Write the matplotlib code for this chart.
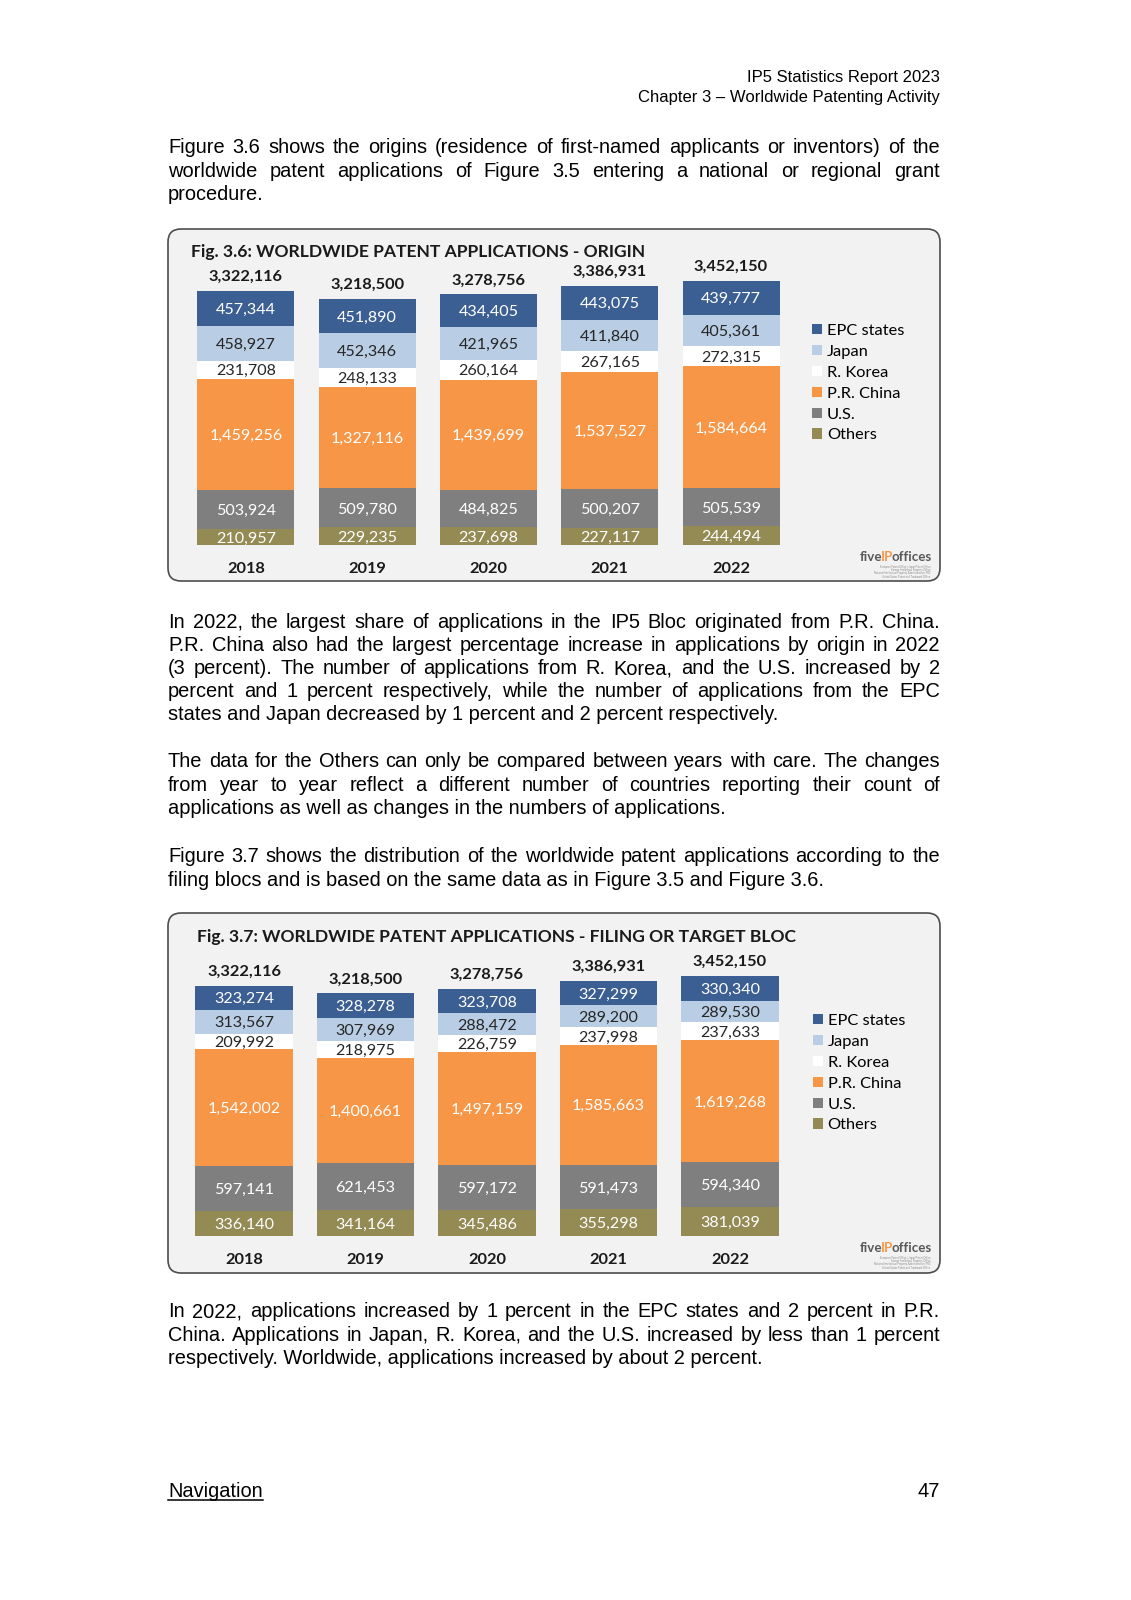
import matplotlib
matplotlib.use("Agg")
import matplotlib.pyplot as plt
from matplotlib.patches import FancyBboxPatch

W, H = 1131, 1600

years = ["2018", "2019", "2020", "2021", "2022"]
legend_names = ["EPC states", "Japan", "R. Korea", "P.R. China", "U.S.", "Others"]

# Fig 3.6 - origin
origin_epc = [457344, 451890, 434405, 443075, 439777]
origin_japan = [458927, 452346, 421965, 411840, 405361]
origin_korea = [231708, 248133, 260164, 267165, 272315]
origin_china = [1459256, 1327116, 1439699, 1537527, 1584664]
origin_us = [503924, 509780, 484825, 500207, 505539]
origin_others = [210957, 229235, 237698, 227117, 244494]

# Fig 3.7 - filing bloc
filing_epc = [323274, 328278, 323708, 327299, 330340]
filing_japan = [313567, 307969, 288472, 289200, 289530]
filing_korea = [209992, 218975, 226759, 237998, 237633]
filing_china = [1542002, 1400661, 1497159, 1585663, 1619268]
filing_us = [597141, 621453, 597172, 591473, 594340]
filing_others = [336140, 341164, 345486, 355298, 381039]

colors = {"EPC states": "#3b5f92", "Japan": "#b9cde5", "R. Korea": "#ffffff",
          "P.R. China": "#f79646", "U.S.": "#7f7f7f", "Others": "#948a54"}
label_color = {"EPC states": "white", "Japan": "#262626", "R. Korea": "#262626",
               "P.R. China": "white", "U.S.": "white", "Others": "white"}

CF = "Lato"
BF = "Liberation Sans"

fig = plt.figure(figsize=(W / 100, H / 100), dpi=100)
page = fig.add_axes([0, 0, 1, 1])
page.set_xlim(0, W)
page.set_ylim(H, 0)
page.axis("off")
renderer = fig.canvas.get_renderer()


def para(lines, y0, lh=23.6, x0=168, x1=940, size=14.4):
    for k, line in enumerate(lines):
        y = y0 + k * lh + 7
        if k == len(lines) - 1:
            page.text(x0, y, line, fontsize=size, family=BF, va="baseline", color="black")
            continue
        words = line.split()
        objs = [page.text(0, y, w, fontsize=size, family=BF, va="baseline", color="black")
                for w in words]
        widths = [o.get_window_extent(renderer).width for o in objs]
        gap = (x1 - x0 - sum(widths)) / (len(words) - 1)
        x = x0
        for o, w in zip(objs, widths):
            o.set_x(x)
            x += w + gap


def logo(x, y):
    pieces = [("five", "#595959"), ("IP", "#f79646"), ("offices", "#595959")]
    for txt, c in pieces:
        t = page.text(x, y, txt, fontsize=9.6, family=CF, weight="bold", color=c, va="center")
        x += t.get_window_extent(renderer).width - 1.5
    for k, s in enumerate(["European Patent Office | Japan Patent Office",
                           "Korean Intellectual Property Office",
                           "National Intellectual Property Administration, PRC",
                           "United States Patent and Trademark Office"]):
        page.text(x, y + 10 + k * 3.2, s, fontsize=1.9, family=CF, color="#8c8c8c",
                  ha="right", va="center")


def chart(box, title, title_xy, left, right, top, bottom, ytop, series, legend_xy):
    bx0, by0, bx1, by1 = box
    page.add_patch(FancyBboxPatch((bx0, by0), bx1 - bx0, by1 - by0,
                                  boxstyle="round,pad=0,rounding_size=13",
                                  fc="#f2f2f2", ec="#4d4d4d", lw=1.2))
    page.text(title_xy[0], title_xy[1], title, fontsize=12.6, family=CF, weight="bold",
              color="#1a1a1a", va="center")

    ax = fig.add_axes([left / W, 1 - bottom / H, (right - left) / W, (bottom - top) / H])
    ax.patch.set_alpha(0)
    ax.axis("off")
    ax.set_xlim(-0.5, len(years) - 0.5)
    ax.set_ylim(0, ytop)
    xs = list(range(len(years)))
    base = [0] * len(years)
    handles = {}
    for name in ["Others", "U.S.", "P.R. China", "R. Korea", "Japan", "EPC states"]:
        vals = series[name]
        bars = ax.bar(xs, vals, 0.8, bottom=base, color=colors[name], edgecolor="none")
        handles[name] = bars
        for i, v in enumerate(vals):
            ax.text(i, base[i] + v / 2, f"{v:,}", ha="center", va="center_baseline",
                    fontsize=11.6, family=CF, color=label_color[name])
        base = [b + v for b, v in zip(base, vals)]
    for i, tot in enumerate(base):
        ax.annotate(f"{tot:,}", (i, tot), xytext=(0, 11), textcoords="offset points",
                    ha="center", va="center_baseline", fontsize=11.8, family=CF,
                    weight="bold", color="#1a1a1a")
        ax.annotate(years[i], (i, 0), xytext=(0, -16), textcoords="offset points",
                    ha="center", va="center_baseline", fontsize=11.8, family=CF,
                    weight="bold", color="#1a1a1a", annotation_clip=False)
    ax.legend([handles[n] for n in legend_names], legend_names, loc="upper left",
              bbox_to_anchor=(legend_xy[0] / W, 1 - legend_xy[1] / H),
              bbox_transform=fig.transFigure, frameon=False, borderpad=0,
              borderaxespad=0, handlelength=0.6, handleheight=0.6, handletextpad=0.3,
              labelspacing=0.42, prop={"family": CF, "size": 11.8})


# header / footer
page.text(940, 82, "IP5 Statistics Report 2023", fontsize=12, family=BF, ha="right", va="baseline")
page.text(940, 102, "Chapter 3 \u2013 Worldwide Patenting Activity", fontsize=12, family=BF,
          ha="right", va="baseline")
nav = page.text(168, 1497, "Navigation", fontsize=14.4, family=BF, va="baseline")
nav_w = nav.get_window_extent(renderer).width
page.plot([168, 168 + nav_w], [1500, 1500], color="black", lw=1.1)
page.text(940, 1497, "47", fontsize=14.4, family=BF, ha="right", va="baseline")

para(["Figure 3.6 shows the origins (residence of first-named applicants or inventors) of the",
      "worldwide patent applications of Figure 3.5 entering a national or regional grant",
      "procedure."], 146)
para(["In 2022, the largest share of applications in the IP5 Bloc originated from P.R. China.",
      "P.R. China also had the largest percentage increase in applications by origin in 2022",
      "(3 percent). The number of applications from R. Korea, and the U.S. increased by 2",
      "percent and 1 percent respectively, while the number of applications from the EPC",
      "states and Japan decreased by 1 percent and 2 percent respectively."], 621, lh=23.1)
para(["The data for the Others can only be compared between years with care. The changes",
      "from year to year reflect a different number of countries reporting their count of",
      "applications as well as changes in the numbers of applications."], 760)
para(["Figure 3.7 shows the distribution of the worldwide patent applications according to the",
      "filing blocs and is based on the same data as in Figure 3.5 and Figure 3.6."], 855)
para(["In 2022, applications increased by 1 percent in the EPC states and 2 percent in P.R.",
      "China. Applications in Japan, R. Korea, and the U.S. increased by less than 1 percent",
      "respectively. Worldwide, applications increased by about 2 percent."], 1310)

origin = {"EPC states": origin_epc, "Japan": origin_japan, "R. Korea": origin_korea,
          "P.R. China": origin_china, "U.S.": origin_us, "Others": origin_others}
filing = {"EPC states": filing_epc, "Japan": filing_japan, "R. Korea": filing_korea,
          "P.R. China": filing_china, "U.S.": filing_us, "Others": filing_others}

chart((168, 229, 940, 581), "Fig. 3.6: WORLDWIDE PATENT APPLICATIONS - ORIGIN", (191, 252),
      185.35, 791.65, 240, 545, 305 / 76.5e-6, origin, (812, 324))
logo(860, 557)

chart((168, 913, 940, 1273), "Fig. 3.7: WORLDWIDE PATENT APPLICATIONS - FILING OR TARGET BLOC",
      (197, 937), 183.25, 790.75, 925, 1236, 311 / 75.4e-6, filing, (813, 1014))
logo(860, 1248)

fig.savefig("out.png", dpi=100)
